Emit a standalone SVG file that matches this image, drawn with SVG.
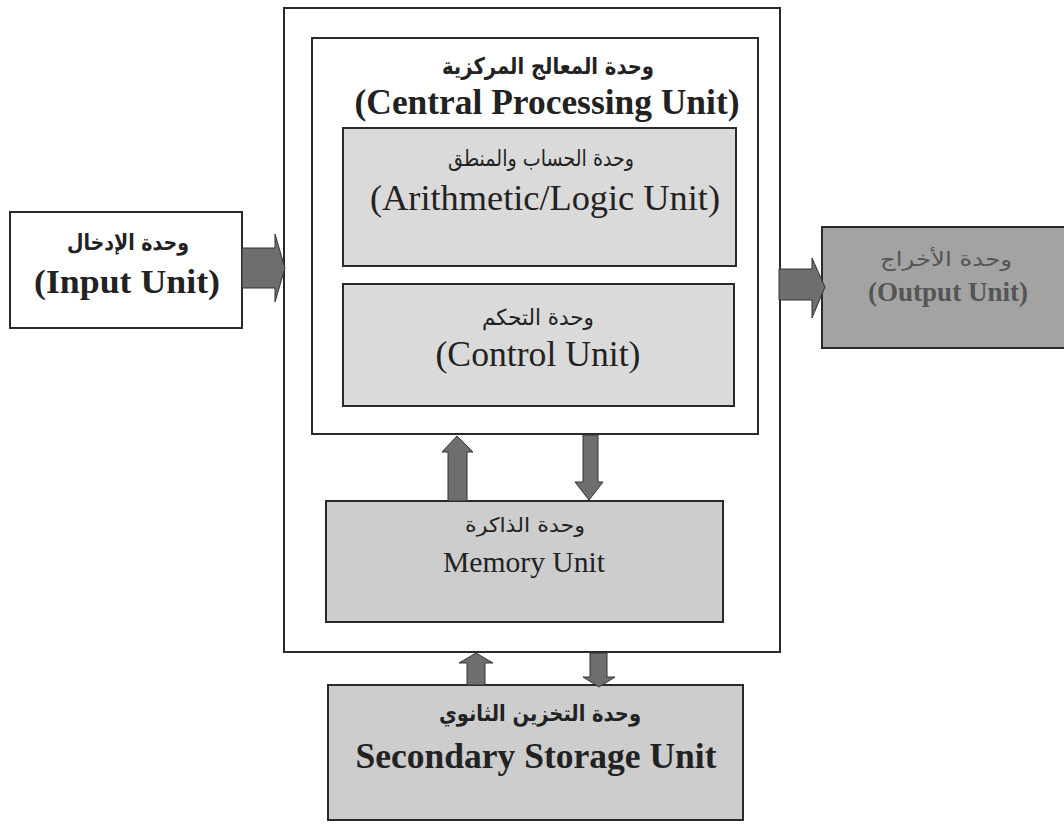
<svg xmlns="http://www.w3.org/2000/svg" width="1064" height="825" viewBox="0 0 1064 825">
<style>
.box{stroke:#2a2a2a;stroke-width:2}
.white{fill:#ffffff}
.light{fill:#dadada}
.mem{fill:#cdcdcd}
.dark{fill:#a3a3a3}
.ar{font-family:"DejaVu Sans","Liberation Serif",sans-serif;text-anchor:middle;fill:#222}
.en{font-family:"Liberation Serif","Times New Roman",serif;text-anchor:middle;fill:#222}
.b{font-weight:bold}
.faded{fill:#555}
.arrow{fill:#6e6e6e;stroke:#333;stroke-width:1}
</style>
<rect width="1064" height="825" fill="#ffffff"/>
<g id="computer">
  <rect class="box white" x="284" y="8" width="496" height="644"/>
</g>
<g id="cpu">
  <rect class="box white" x="312" y="38" width="446" height="396"/>
  <text class="ar b" x="548" y="74" font-size="23" textLength="212" lengthAdjust="spacingAndGlyphs">وحدة المعالج المركزية</text>
  <text class="en b" x="547" y="114" font-size="35" textLength="385" lengthAdjust="spacingAndGlyphs">(Central Processing Unit)</text>
</g>
<g id="alu">
  <rect class="box light" x="343" y="128" width="393" height="138"/>
  <text class="ar" x="541" y="166" font-size="22" textLength="186" lengthAdjust="spacingAndGlyphs">وحدة الحساب والمنطق</text>
  <text class="en" x="545" y="210" font-size="35" textLength="350" lengthAdjust="spacingAndGlyphs">(Arithmetic/Logic Unit)</text>
</g>
<g id="control">
  <rect class="box light" x="343" y="284" width="391" height="122"/>
  <text class="ar" x="538" y="325" font-size="22" textLength="112" lengthAdjust="spacingAndGlyphs">وحدة التحكم</text>
  <text class="en" x="538" y="366" font-size="36" textLength="205" lengthAdjust="spacingAndGlyphs">(Control Unit)</text>
</g>
<g id="memory">
  <rect class="box mem" x="326" y="501" width="397" height="121"/>
  <text class="ar" x="525" y="532" font-size="20" textLength="120" lengthAdjust="spacingAndGlyphs">وحدة الذاكرة</text>
  <text class="en" x="524" y="572" font-size="30" textLength="162" lengthAdjust="spacingAndGlyphs">Memory Unit</text>
</g>
<g id="secondary">
  <rect class="box mem" x="328" y="685" width="415" height="135"/>
  <text class="ar b" x="540" y="721" font-size="22" textLength="202" lengthAdjust="spacingAndGlyphs">وحدة التخزين الثانوي</text>
  <text class="en b" x="536" y="768" font-size="36" textLength="361" lengthAdjust="spacingAndGlyphs">Secondary Storage Unit</text>
</g>
<g id="input">
  <rect class="box white" x="10" y="212" width="232" height="116"/>
  <text class="ar b" x="128" y="250" font-size="22" textLength="122" lengthAdjust="spacingAndGlyphs">وحدة الإدخال</text>
  <text class="en b" x="127" y="293" font-size="34" textLength="186" lengthAdjust="spacingAndGlyphs">(Input Unit)</text>
</g>
<g id="output">
  <rect class="box dark" x="822" y="227" width="250" height="121"/>
  <text class="ar faded" x="946" y="266" font-size="20" textLength="132" lengthAdjust="spacingAndGlyphs">وحدة الأخراج</text>
  <text class="en b faded" x="948" y="301" font-size="27" textLength="160" lengthAdjust="spacingAndGlyphs">(Output Unit)</text>
</g>
<g id="connectors">
  <polygon class="arrow" points="242,248 275,248 275,234 285,268 275,302 275,288 242,288"/>
  <polygon class="arrow" points="779,269 812,269 812,258 825,287 812,318 812,300 779,300"/>
  <polygon class="arrow" points="448,501 448,452 442,452 457,436 473,452 467,452 467,501"/>
  <polygon class="arrow" points="583,435 583,482 575,482 589,500 603,482 598,482 598,435"/>
  <polygon class="arrow" points="467,685 467,663 459,663 476,653 493,663 485,663 485,685"/>
  <polygon class="arrow" points="590,653 590,677 583,677 599,687 615,677 607,677 607,653"/>
</g>
</svg>
